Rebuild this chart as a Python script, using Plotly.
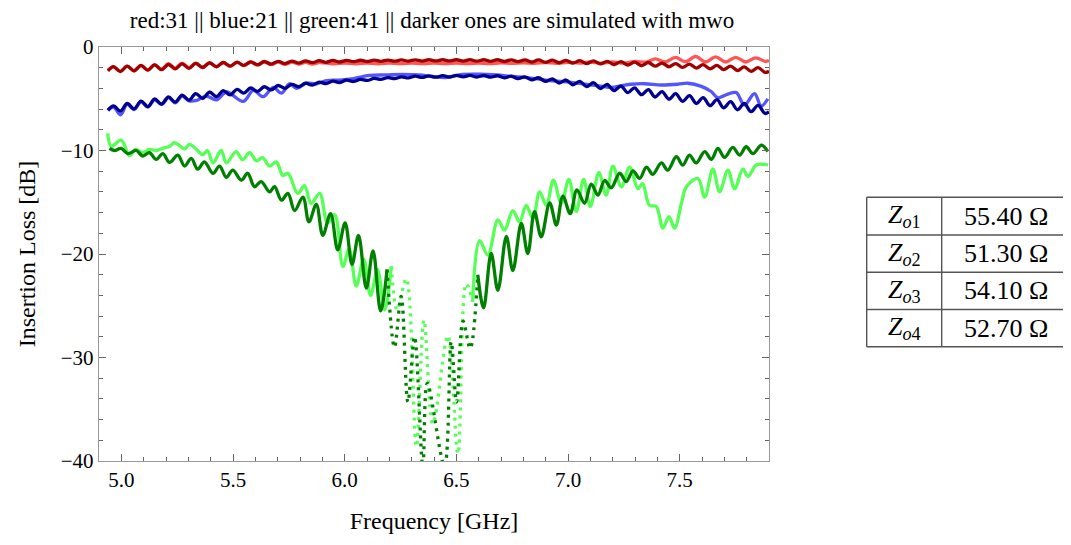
import plotly.graph_objects as go

# ---------------- data ----------------
# simulated red / blue: ripple extrema frequencies (GHz)
f_sim = [4.940, 4.965, 4.996, 5.026, 5.057, 5.088, 5.119, 5.149, 5.180, 5.211, 5.241, 5.272,
         5.303, 5.333, 5.364, 5.395, 5.426, 5.456, 5.487, 5.518, 5.548, 5.579, 5.610, 5.640,
         5.671, 5.702, 5.733, 5.763, 5.794, 5.825, 5.855, 5.886, 5.917, 5.947, 5.978, 6.009,
         6.040, 6.070, 6.101, 6.132, 6.162, 6.193, 6.224, 6.254, 6.285, 6.316, 6.347, 6.377,
         6.408, 6.439, 6.469, 6.500, 6.531, 6.561, 6.592, 6.623, 6.654, 6.684, 6.715, 6.746,
         6.776, 6.807, 6.838, 6.868, 6.899, 6.930, 6.961, 6.991, 7.022, 7.053, 7.083, 7.114,
         7.145, 7.175, 7.206, 7.237, 7.268, 7.298, 7.329, 7.360, 7.390, 7.421, 7.452, 7.482,
         7.513, 7.544, 7.575, 7.605, 7.636, 7.667, 7.697, 7.728, 7.759, 7.789, 7.820, 7.851,
         7.882, 7.900]
red_sim = [-2.30, -1.90, -2.37, -1.84, -2.31, -1.78, -2.24, -1.73, -2.19, -1.69, -2.12, -1.64,
           -2.06, -1.59, -1.98, -1.54, -1.91, -1.50, -1.85, -1.46, -1.78, -1.43, -1.71, -1.40,
           -1.65, -1.38, -1.60, -1.36, -1.55, -1.34, -1.51, -1.32, -1.48, -1.30, -1.45, -1.29,
           -1.42, -1.28, -1.40, -1.27, -1.38, -1.26, -1.37, -1.25, -1.36, -1.24, -1.36, -1.23,
           -1.35, -1.23, -1.35, -1.23, -1.36, -1.23, -1.37, -1.23, -1.38, -1.23, -1.40, -1.24,
           -1.42, -1.24, -1.45, -1.25, -1.48, -1.27, -1.52, -1.29, -1.56, -1.32, -1.60, -1.35,
           -1.64, -1.38, -1.69, -1.42, -1.74, -1.46, -1.79, -1.50, -1.85, -1.55, -1.91, -1.60,
           -1.97, -1.65, -2.04, -1.71, -2.11, -1.78, -2.19, -1.85, -2.27, -1.92, -2.36, -2.00,
           -2.45, -2.35]
blue_sim = [-6.10, -5.68, -6.20, -5.45, -5.98, -5.23, -5.76, -5.01, -5.52, -4.82, -5.32, -4.65,
            -5.13, -4.50, -4.96, -4.35, -4.79, -4.22, -4.63, -4.09, -4.45, -3.96, -4.29, -3.84,
            -4.14, -3.72, -3.99, -3.61, -3.84, -3.50, -3.68, -3.39, -3.54, -3.30, -3.43, -3.21,
            -3.33, -3.13, -3.23, -3.04, -3.13, -2.95, -3.05, -2.88, -2.99, -2.82, -2.94, -2.79,
            -2.92, -2.77, -2.90, -2.75, -2.89, -2.75, -2.90, -2.76, -2.92, -2.78, -2.98, -2.82,
            -3.06, -2.88, -3.18, -2.97, -3.33, -3.08, -3.48, -3.19, -3.65, -3.32, -3.83, -3.45,
            -4.01, -3.61, -4.21, -3.77, -4.41, -3.94, -4.61, -4.12, -4.83, -4.31, -5.04, -4.51,
            -5.25, -4.70, -5.46, -4.90, -5.67, -5.09, -5.88, -5.28, -6.07, -5.46, -6.25, -5.64,
            -6.42, -6.25]

# measured red
f_red_meas = [4.940, 4.965, 4.996, 5.026, 5.057, 5.088, 5.119, 5.149, 5.180, 5.211, 5.241,
              5.272, 5.303, 5.333, 5.364, 5.395, 5.426, 5.456, 5.487, 5.518, 5.548, 5.579,
              5.610, 5.640, 5.671, 5.702, 5.733, 5.763, 5.794, 5.825, 5.855, 5.886,
              5.95, 6.00, 6.05, 6.10, 6.15, 6.20, 6.25, 6.30, 6.35, 6.40, 6.45, 6.50, 6.55,
              6.60, 6.65, 6.70, 6.75, 6.80, 6.85, 6.90, 6.95, 7.00, 7.05, 7.10, 7.15, 7.20,
              7.25, 7.30, 7.35, 7.391, 7.436, 7.481, 7.526, 7.571, 7.616, 7.661, 7.706,
              7.751, 7.796, 7.840, 7.885, 7.900]
red_meas = [-2.25, -1.92, -2.35, -1.85, -2.30, -1.80, -2.22, -1.70, -2.15, -1.62, -2.05,
            -1.55, -2.00, -1.55, -1.95, -1.52, -1.90, -1.50, -1.85, -1.48, -1.80, -1.45,
            -1.75, -1.45, -1.70, -1.45, -1.68, -1.45, -1.65, -1.48, -1.65, -1.50,
            -1.62, -1.55, -1.62, -1.56, -1.62, -1.56, -1.60, -1.55, -1.60, -1.55, -1.60,
            -1.55, -1.60, -1.55, -1.60, -1.54, -1.58, -1.52, -1.58, -1.50, -1.58, -1.48,
            -1.56, -1.45, -1.56, -1.45, -1.55, -1.40, -1.45, -1.15, -1.45, -1.00, -1.42,
            -0.92, -1.45, -0.95, -1.45, -1.00, -1.45, -1.05, -1.40, -1.30]

# measured blue
f_blue_meas = [4.940, 4.965, 4.996, 5.026, 5.057, 5.088, 5.119, 5.149, 5.180, 5.211, 5.241,
               5.272, 5.303, 5.337, 5.381, 5.426, 5.471, 5.546, 5.591, 5.635, 5.680, 5.717,
               5.754, 5.784, 5.829, 5.874, 5.919, 5.977, 6.040, 6.111, 6.186, 6.259, 6.335,
               6.393, 6.455, 6.528, 6.604, 6.679, 6.752, 6.813, 6.873, 6.917, 6.98, 7.044,
               7.119, 7.194, 7.239, 7.283, 7.343, 7.418, 7.492, 7.537, 7.597, 7.641, 7.671,
               7.716, 7.753, 7.790, 7.835, 7.865, 7.895]
blue_meas = [-6.15, -5.80, -6.55, -5.55, -6.05, -5.30, -5.80, -5.10, -5.55, -4.90, -5.40,
             -4.75, -5.20, -5.15, -4.75, -5.10, -4.35, -5.25, -4.20, -4.80, -3.90, -4.45,
             -3.55, -4.00, -3.50, -3.55, -3.25, -3.20, -3.05, -2.75, -2.70, -2.65, -2.70,
             -2.85, -2.95, -2.65, -2.62, -2.70, -2.85, -2.95, -3.10, -3.25, -3.35, -3.50,
             -3.70, -3.90, -3.75, -3.60, -3.55, -3.67, -3.60, -3.50, -3.80, -4.30, -4.90,
             -4.55, -4.40, -5.60, -4.50, -5.70, -5.00]

# simulated green
f_green_sim = [4.947, 4.969, 4.999, 5.029, 5.067, 5.096, 5.126, 5.156, 5.186, 5.216, 5.253,
               5.283, 5.313, 5.342, 5.372, 5.410, 5.440, 5.470, 5.499, 5.537, 5.566, 5.596,
               5.626, 5.664, 5.686, 5.717, 5.746, 5.776, 5.813, 5.840, 5.873, 5.902, 5.937,
               5.969, 6.002, 6.033, 6.062, 6.097, 6.127, 6.161, 6.190, 6.223, 6.253, 6.283,
               6.313, 6.350, 6.370, 6.447, 6.477, 6.501, 6.530, 6.562, 6.596, 6.622, 6.656,
               6.686, 6.724, 6.753, 6.791, 6.820, 6.850, 6.880, 6.918, 6.948, 6.977, 7.010,
               7.040, 7.074, 7.104, 7.134, 7.164, 7.194, 7.231, 7.261, 7.291, 7.321, 7.351,
               7.380, 7.418, 7.447, 7.485, 7.514, 7.544, 7.574, 7.612, 7.642, 7.671, 7.701,
               7.738, 7.768, 7.798, 7.828, 7.866, 7.895]
green_sim = [-9.8, -10.0, -9.8, -10.3, -10.0, -10.54, -10.2, -10.86, -10.3, -11.15, -10.44,
             -11.5, -10.77, -11.8, -11.09, -12.2, -11.5, -12.6, -11.9, -12.86, -12.2, -13.5,
             -13.0, -14.0, -13.5, -14.8, -14.15, -15.8, -14.5, -16.9, -15.2, -18.2, -16.1,
             -19.6, -17.0, -21.0, -18.2, -23.3, -19.7, -25.5, -21.5, -29.0, -24.1, -34.3,
             -28.0, -40.5, -32.5, -40.5, -28.5, -34.3, -26.5, -29.1, -22.0, -25.2, -19.95,
             -23.5, -18.3, -21.6, -17.05, -19.95, -15.9, -18.35, -15.06, -17.2, -14.4, -16.1,
             -13.8, -15.1, -13.25, -14.3, -12.9, -13.6, -12.2, -13.0, -11.96, -12.7, -11.6,
             -12.3, -11.2, -11.9, -10.6, -11.4, -10.44, -11.2, -10.1, -10.86, -9.8, -10.67,
             -9.7, -10.44, -9.64, -10.3, -9.48, -10.1]

# measured green
f_green_meas = [4.939, 4.955, 4.999, 5.037, 5.063, 5.095, 5.126, 5.158, 5.184, 5.216, 5.238,
                5.265, 5.283, 5.305, 5.332, 5.364, 5.386, 5.410, 5.447, 5.470, 5.514, 5.543,
                5.574, 5.605, 5.632, 5.664, 5.694, 5.723, 5.746, 5.790, 5.820, 5.850, 5.888,
                5.923, 5.955, 5.992, 6.020, 6.052, 6.085, 6.116, 6.147, 6.179, 6.209, 6.235,
                6.276, 6.321, 6.355, 6.395, 6.462, 6.507, 6.544, 6.573, 6.604, 6.641, 6.686,
                6.716, 6.753, 6.783, 6.813, 6.843, 6.873, 6.903, 6.935, 6.970, 7.004, 7.037,
                7.070, 7.100, 7.138, 7.171, 7.201, 7.239, 7.276, 7.313, 7.334, 7.365, 7.395,
                7.425, 7.452, 7.477, 7.509, 7.530, 7.582, 7.612, 7.649, 7.679, 7.716, 7.746,
                7.783, 7.806, 7.843, 7.880, 7.896]
green_meas = [-8.35, -9.6, -9.0, -10.5, -9.9, -10.2, -9.9, -10.0, -9.8, -9.6, -9.25, -9.6,
              -9.85, -9.4, -9.8, -10.4, -10.0, -11.2, -10.0, -11.2, -10.1, -10.9, -10.2,
              -11.0, -10.7, -11.5, -11.1, -12.4, -12.2, -14.15, -13.4, -15.1, -14.15, -17.0,
              -16.2, -21.2, -19.5, -23.1, -20.5, -24.0, -21.5, -25.4, -21.2, -25.4, -22.4,
              -38.6, -26.4, -36.4, -27.9, -39.3, -22.9, -24.6, -18.7, -20.1, -16.7, -17.7,
              -15.8, -16.9, -15.3, -16.6, -14.0, -15.3, -12.86, -15.1, -12.8, -15.9, -12.8,
              -15.4, -12.15, -14.3, -11.5, -13.5, -11.6, -13.7, -13.2, -15.3, -15.4, -17.5,
              -16.4, -17.5, -15.0, -13.5, -12.7, -14.5, -11.8, -14.0, -11.9, -13.7, -11.8,
              -12.5, -11.4, -11.35, -11.4]

x_ticks = [5.0, 5.5, 6.0, 6.5, 7.0, 7.5]
y_ticks = [0, -10, -20, -30, -40]

table_names = ["<i>Z</i><sub><i>o</i>1</sub>", "<i>Z</i><sub><i>o</i>2</sub>",
               "<i>Z</i><sub><i>o</i>3</sub>", "<i>Z</i><sub><i>o</i>4</sub>"]
table_values = ["55.40 Ω", "51.30 Ω", "54.10 Ω", "52.70 Ω"]

title_text = "red:31 || blue:21 || green:41 || darker ones are simulated with mwo"

# ---------------- styles ----------------
LIGHT_RED, DARK_RED = "#ff5555", "#a00000"
LIGHT_BLUE, DARK_BLUE = "#5555ff", "#000090"
LIGHT_GREEN, DARK_GREEN = "#55ff55", "#008000"
LW = 3.3
FONT = "Liberation Serif"

fig = go.Figure()


def add_curve(xs, ys, color, dotted_range=None):
    if dotted_range is None:
        fig.add_trace(go.Scatter(x=xs, y=ys, mode="lines", line=dict(color=color, width=LW, shape="spline"),
                                 hoverinfo="skip"))
        return
    lo, hi = dotted_range
    i0 = max(i for i, f in enumerate(xs) if f <= lo)
    i1 = min(i for i, f in enumerate(xs) if f >= hi)
    fig.add_trace(go.Scatter(x=xs[:i0 + 1], y=ys[:i0 + 1], mode="lines",
                             line=dict(color=color, width=LW, shape="spline"), hoverinfo="skip"))
    fig.add_trace(go.Scatter(x=xs[i0:i1 + 1], y=ys[i0:i1 + 1], mode="lines",
                             line=dict(color=color, width=LW, shape="spline", dash="3px,5px"),
                             hoverinfo="skip"))
    fig.add_trace(go.Scatter(x=xs[i1:], y=ys[i1:], mode="lines",
                             line=dict(color=color, width=LW, shape="spline"), hoverinfo="skip"))


add_curve(f_red_meas, red_meas, LIGHT_RED)
add_curve(f_sim, red_sim, DARK_RED)
add_curve(f_blue_meas, blue_meas, LIGHT_BLUE)
add_curve(f_sim, blue_sim, DARK_BLUE)
add_curve(f_green_meas, green_meas, LIGHT_GREEN, dotted_range=(6.209, 6.573))
add_curve(f_green_sim, green_sim, DARK_GREEN, dotted_range=(6.190, 6.596))

# ---------------- layout ----------------
# the page body has an 8 px default margin: work in window pixels, then shift
OFF = 8
WIN_W, WIN_H = 1071, 545
W, H = WIN_W - 2 * OFF, WIN_H - 2 * OFF
L, R, T, B = 99 - OFF, 769 - OFF, 47 - OFF, 461 - OFF


def px(x):
    return (x - OFF - L) / (R - L)


def py(y):
    return (B - (y - OFF)) / (B - T)


axis_common = dict(showline=True, linecolor="#9a9a9a", linewidth=1.4, mirror="allticks",
                   ticks="inside", ticklen=7, tickwidth=1.1, tickcolor="#666666",
                   showgrid=False, zeroline=False, automargin=False,
                   tickfont=dict(family=FONT, size=21, color="black"))

fig.update_layout(
    width=W, height=H,
    margin=dict(l=L, r=W - R, t=T, b=H - B, pad=0, autoexpand=False),
    paper_bgcolor="white", plot_bgcolor="white",
    showlegend=False,
    title=dict(text=title_text, x=px(432), xref="paper", xanchor="center",
               y=1 - (19.5 - OFF) / H, yref="container", yanchor="middle",
               font=dict(family=FONT, size=23, color="black")),
    xaxis=dict(range=[4.9, 7.9], tickvals=x_ticks, ticktext=[f"{v:.1f}" for v in x_ticks],
               minor=dict(ticks="inside", dtick=0.1, tick0=4.9, ticklen=4, tickcolor="#666666",
                          showgrid=False),
               title=dict(text="Frequency [GHz]", standoff=20,
                          font=dict(family=FONT, size=24, color="black")),
               **axis_common),
    yaxis=dict(range=[-40, 0], tickvals=y_ticks,
               minor=dict(ticks="inside", dtick=2, ticklen=4, tickcolor="#666666", showgrid=False),
               title=dict(text="Insertion Loss [dB]", standoff=18,
                          font=dict(family=FONT, size=24, color="black")),
               **axis_common),
)

# ---------------- table (window-pixel positions) ----------------
tx0, tx1, tx2 = 866.7, 941.7, 1080
row_y = [197.3, 235.0, 272.3, 309.5, 346.7]
TCOL = "#555555"
for y in row_y:
    fig.add_shape(type="line", xref="paper", yref="paper", x0=px(tx0), x1=px(tx2),
                  y0=py(y), y1=py(y), line=dict(color=TCOL, width=1.4))
for x in (tx0, tx1):
    fig.add_shape(type="line", xref="paper", yref="paper", x0=px(x), x1=px(x),
                  y0=py(row_y[0]), y1=py(row_y[-1]), line=dict(color=TCOL, width=1.4))

for i, (nm, val) in enumerate(zip(table_names, table_values)):
    yc = (row_y[i] + row_y[i + 1]) / 2
    fig.add_annotation(x=px((tx0 + tx1) / 2), y=py(yc), xref="paper", yref="paper",
                       text=nm, showarrow=False, xanchor="center", yanchor="middle",
                       font=dict(family=FONT, size=26, color="black"))
    fig.add_annotation(x=px(1006), y=py(yc), xref="paper", yref="paper",
                       text=val, showarrow=False, xanchor="center", yanchor="middle",
                       font=dict(family=FONT, size=26, color="black"))

fig.write_html("out.html")
